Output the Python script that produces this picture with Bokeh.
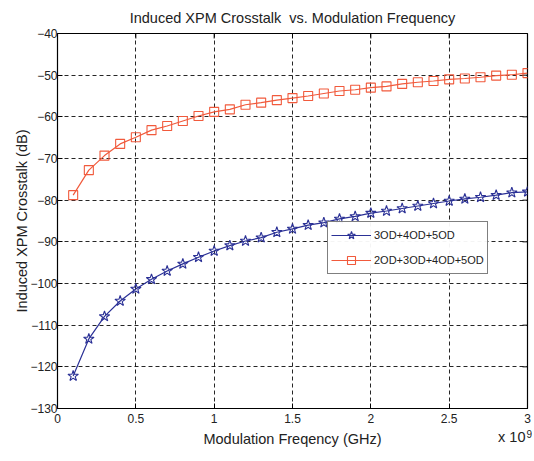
import math
from bokeh.plotting import figure
from bokeh.models import FixedTicker, Legend, LegendItem, Label, Range1d
from bokeh.embed import file_html
from bokeh.resources import INLINE

freq = [0.1, 0.2, 0.3, 0.4, 0.5, 0.6, 0.7, 0.8, 0.9, 1.0,
        1.1, 1.2, 1.3, 1.4, 1.5, 1.6, 1.7, 1.8, 1.9, 2.0,
        2.1, 2.2, 2.3, 2.4, 2.5, 2.6, 2.7, 2.8, 2.9, 3.0]
xpm_3od = [-122.2, -113.3, -107.9, -104.2, -101.3, -99.0, -97.0, -95.3, -93.7, -92.2,
           -90.9, -89.8, -89.0, -87.7, -86.9, -86.0, -85.4, -84.5, -83.9, -83.1,
           -82.6, -82.0, -81.4, -80.8, -80.2, -79.7, -79.3, -78.8, -78.2, -78.0]
xpm_2od = [-78.8, -72.8, -69.3, -66.5, -64.9, -63.2, -62.2, -61.0, -59.8, -58.8,
           -58.2, -57.1, -56.6, -56.0, -55.5, -55.0, -54.4, -53.8, -53.5, -53.0,
           -52.7, -52.1, -51.7, -51.4, -51.0, -50.8, -50.5, -50.1, -49.9, -49.5]
xticks = [0, 0.5, 1, 1.5, 2, 2.5, 3]
xtick_labels = ["0", "0.5", "1", "1.5", "2", "2.5", "3"]
yticks = [-130, -120, -110, -100, -90, -80, -70, -60, -50, -40]
series_names = ["3OD+4OD+5OD", "2OD+3OD+4OD+5OD"]
x_min, x_max = 0, 3
y_min, y_max = -130, -40

FONT = "Liberation Sans"
BLUE = "#2B3196"
RED = "#F15A3C"
TXT = "#222222"

p = figure(frame_width=470, frame_height=375,
           x_range=Range1d(x_min, x_max), y_range=Range1d(y_min, y_max),
           output_backend="svg", toolbar_location=None,
           title="Induced XPM Crosstalk\u00a0 vs. Modulation Frequency",
           min_border_left=57, min_border_right=5, min_border_top=31, min_border_bottom=46)

p.title.align = "center"
p.title.text_font = FONT
p.title.text_font_size = "14.5px"
p.title.text_font_style = "normal"
p.title.text_color = TXT
p.title.standoff = 15

p.outline_line_color = "black"
p.outline_line_width = 1.2

for ax in (p.xaxis[0], p.yaxis[0]):
    ax.major_tick_in = 5
    ax.major_tick_out = 0
    ax.minor_tick_line_color = None
    ax.axis_line_color = "black"
    ax.major_tick_line_color = "black"
    ax.major_label_text_font = FONT
    ax.major_label_text_font_size = "12px"
    ax.major_label_text_color = TXT
    ax.axis_label_text_font = FONT
    ax.axis_label_text_font_size = "14.5px"
    ax.axis_label_text_font_style = "normal"
    ax.axis_label_text_color = TXT

p.xaxis.ticker = FixedTicker(ticks=xticks)
p.xaxis.major_label_overrides = {t: l for t, l in zip(xticks, xtick_labels)}
p.xaxis.axis_label = "Modulation Freqency (GHz)"
p.xaxis.axis_label_standoff = 5
p.xaxis.major_label_standoff = 5
p.yaxis.ticker = FixedTicker(ticks=yticks)
p.yaxis.axis_label = "Induced XPM Crosstalk (dB)"
p.yaxis.axis_label_standoff = -3
p.yaxis.major_label_standoff = 0

p.xgrid.ticker = FixedTicker(ticks=xticks)
p.ygrid.ticker = FixedTicker(ticks=yticks)
for g in (p.xgrid[0], p.ygrid[0]):
    g.grid_line_color = "black"
    g.grid_line_dash = "4 3"
    g.grid_line_alpha = 0.85
    g.grid_line_width = 1

# inward ticks on the right and top edges of the box (clipped half by the frame)
p.scatter([x_max] * len(yticks), yticks, marker="dash", size=10, line_color="black", line_width=1)
p.scatter(xticks, [y_max] * len(xticks), marker="dash", angle=math.pi / 2, size=10,
          line_color="black", line_width=1)

l1 = p.line(freq, xpm_3od, line_color=BLUE, line_width=1.2)
s1 = p.scatter(freq, xpm_3od, marker="star", size=11, fill_color=None, line_color=BLUE, line_width=1.1)
l2 = p.line(freq, xpm_2od, line_color=RED, line_width=1.2)
s2 = p.scatter(freq, xpm_2od, marker="square", size=9, fill_color=None, line_color=RED, line_width=1.1)

legend = Legend(items=[LegendItem(label=series_names[0], renderers=[l1, s1]),
                       LegendItem(label=series_names[1], renderers=[l2, s2])],
                location=(270, 134), glyph_width=40, glyph_height=20, spacing=5,
                padding=3, margin=0, label_text_font=FONT, label_text_font_size="11px",
                label_text_color=TXT, border_line_color="black", border_line_width=1.2,
                label_standoff=3)
p.add_layout(legend, "center")

# multiplier label placed in side panels so that it is not clipped to the frame
p.add_layout(Label(x=468, y=29, x_units="screen", y_units="screen", text="x 10",
                   text_font=FONT, text_font_size="14.5px", text_color=TXT,
                   text_align="right", text_baseline="middle"), "below")
p.add_layout(Label(x=469, y=40, x_units="screen", y_units="screen", text="9",
                   text_font=FONT, text_font_size="10px", text_color=TXT,
                   text_align="left", text_baseline="middle"), "below")

open("out.html", "w").write(file_html(p, INLINE))
